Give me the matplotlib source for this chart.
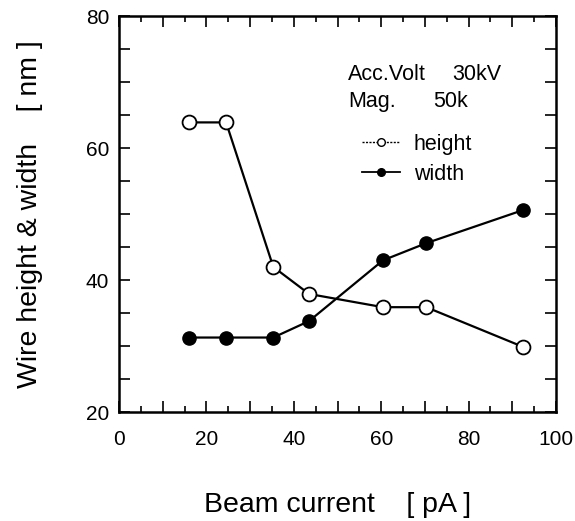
import matplotlib
matplotlib.use("Agg")
import matplotlib.pyplot as plt
from matplotlib.ticker import MultipleLocator, FuncFormatter
from matplotlib.lines import Line2D

plt.rcParams["font.family"] = ["Liberation Sans", "DejaVu Sans"]

# data
current = [16.0, 24.5, 35.3, 43.5, 60.4, 70.3, 92.4]
height = [63.9, 63.9, 42.0, 37.9, 35.9, 35.9, 29.9]
width = [31.3, 31.3, 31.3, 33.8, 43.0, 45.6, 50.6]

fig = plt.figure(figsize=(5.75, 5.21), dpi=100)
ax = fig.add_axes([0.207, 0.209, 0.760, 0.760])

ax.plot(current, width, color="black", lw=1.6, marker="o", ms=9.5,
        mfc="black", mec="black", zorder=3)
ax.plot(current, height, color="black", lw=1.6, marker="o", ms=10,
        mfc="white", mec="black", mew=1.3, zorder=4)

ax.set_xlim(0, 100)
ax.set_ylim(20, 80)

# ticks on all four sides, pointing in
ax.xaxis.set_major_locator(MultipleLocator(10))
ax.xaxis.set_minor_locator(MultipleLocator(5))
ax.xaxis.set_major_formatter(FuncFormatter(lambda v, p: "%d" % v if int(round(v)) % 20 == 0 else ""))
ax.yaxis.set_major_locator(MultipleLocator(20))
ax.yaxis.set_minor_locator(MultipleLocator(5))
ax.tick_params(which="both", direction="in", top=True, right=True, width=1.2, labelsize=15)
ax.tick_params(axis="x", which="major", length=8, pad=13)
ax.tick_params(axis="x", which="minor", length=4.5)
ax.tick_params(axis="y", which="both", length=8, pad=7)
for s in ax.spines.values():
    s.set_linewidth(1.8)

ax.set_xlabel("Beam current    [ pA ]", fontsize=20.5, labelpad=31)
ax.set_ylabel("Wire height & width    [ nm ]", fontsize=20.5, labelpad=31)

ax.text(0.524, 0.838, "Acc.Volt", transform=ax.transAxes, fontsize=15.5, va="baseline")
ax.text(0.762, 0.838, "30kV", transform=ax.transAxes, fontsize=15.5, va="baseline")
ax.text(0.524, 0.770, "Mag.", transform=ax.transAxes, fontsize=15.5, va="baseline")
ax.text(0.718, 0.770, "50k", transform=ax.transAxes, fontsize=15.5, va="baseline")

handles = [
    Line2D([], [], color="black", lw=1, ls=(0, (1.5, 1)), marker="o", ms=5.5, mfc="white", mec="black"),
    Line2D([], [], color="black", lw=1.3, marker="o", ms=5.5, mfc="black", mec="black"),
]
ax.legend(handles, ["height", "width"], loc="center left", bbox_to_anchor=(0.556, 0.6385),
          frameon=False, fontsize=15.5, handlelength=1.75, handletextpad=0.65,
          labelspacing=0.4, borderaxespad=0, borderpad=0)

fig.savefig("out.png", dpi=100)
